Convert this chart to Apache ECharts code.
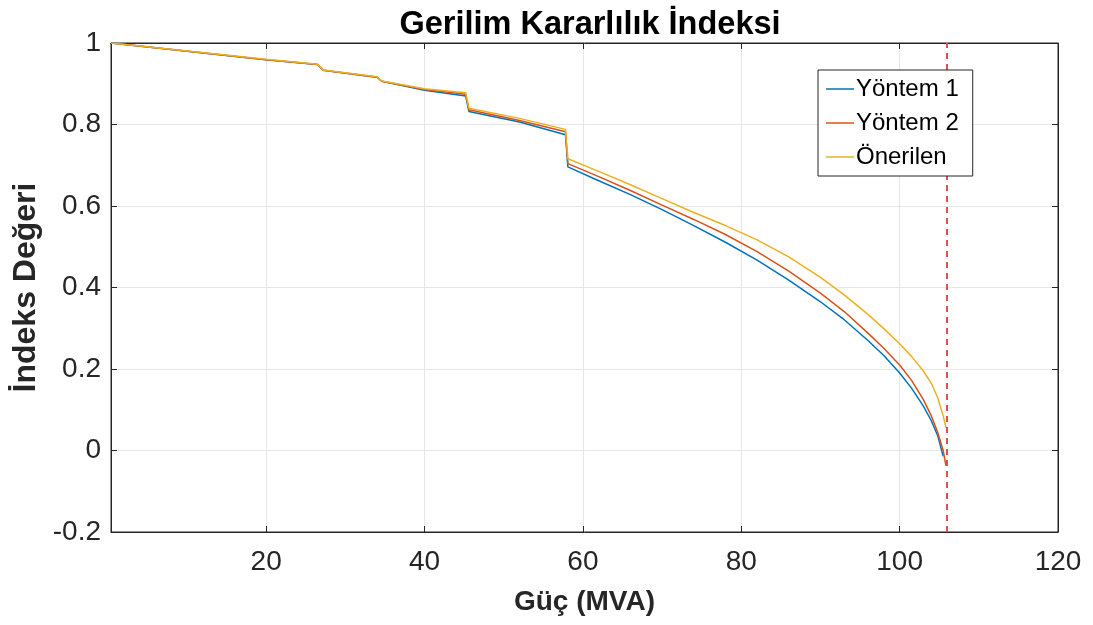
<!DOCTYPE html>
<html>
<head>
<meta charset="utf-8">
<title>Gerilim Kararlılık İndeksi</title>
<script src="https://cdn.jsdelivr.net/npm/echarts@6/dist/echarts.min.js"></script>
<style>
	html, body { margin: 0; padding: 0; background: #fff; }
	#chart { width: 1093px; height: 625px; }
</style>
</head>
<body>
<div id="chart"></div>
<script>
// Güç (MVA) değerleri - basamaklarda aynı bölgede iki nokta var
var gucX = [0.4, 20, 26.5, 27.2, 34.0, 34.6, 40, 45.2, 45.6, 52, 57.8, 58.1,
	62, 66, 70, 74, 78, 82, 86, 90, 93, 96, 98, 100, 101.5, 103, 104, 104.8, 105.5, 105.85];

var yontem1 = [1.0, 0.959, 0.947, 0.933, 0.916, 0.906, 0.884, 0.870, 0.832, 0.806, 0.775, 0.696,
	0.662, 0.628, 0.591, 0.552, 0.511, 0.467, 0.418, 0.365, 0.321, 0.270, 0.233, 0.190, 0.153, 0.109, 0.073, 0.037, -0.014, null];

var yontem2 = [1.0, 0.959, 0.947, 0.933, 0.916, 0.906, 0.886, 0.874, 0.836, 0.810, 0.782, 0.704,
	0.672, 0.638, 0.602, 0.567, 0.530, 0.488, 0.440, 0.386, 0.341, 0.288, 0.251, 0.210, 0.172, 0.125, 0.085, 0.045, 0.0, -0.038];

var onerilen = [1.0, 0.960, 0.948, 0.934, 0.917, 0.907, 0.888, 0.878, 0.840, 0.815, 0.788, 0.716,
	0.685, 0.652, 0.618, 0.584, 0.552, 0.517, 0.475, 0.425, 0.382, 0.334, 0.299, 0.262, 0.231, 0.195, 0.165, 0.130, 0.085, 0.056];

var seriesNames = ['Yöntem 1', 'Yöntem 2', 'Önerilen'];
var seriesColors = ['#0072BD', '#D95319', '#EDB120'];
var xTickValues = [20, 40, 60, 80, 100, 120];
var sinirGuc = 105.9; // kırmızı kesikli çizgi

function pairs(xs, ys) {
	var ret = [];
	for (var i = 0; i < xs.length; i++) {
		if (ys[i] !== null) {
			ret.push([xs[i], ys[i]]);
		}
	}
	return ret;
}

function drawChart() {
	var myChart = echarts.init(document.getElementById('chart'));
	var allY = [yontem1, yontem2, onerilen];
	var font = 'Liberation Sans, Arial';
	var series = [];
	for (var i = 0; i < 3; i++) {
		series.push({
			name: seriesNames[i],
			type: 'line',
			data: pairs(gucX, allY[i]),
			symbol: 'none',
			animation: false,
			lineStyle: { color: seriesColors[i], width: 1.5 },
			itemStyle: { color: seriesColors[i] }
		});
	}
	// sınır çizgisi
	series[2].markLine = {
		silent: true,
		symbol: 'none',
		label: { show: false },
		lineStyle: { color: '#D9534F', width: 2, type: [6, 5] },
		data: [{ xAxis: sinirGuc }]
	};

	var option = {
		backgroundColor: '#fff',
		animation: false,
		title: {
			text: 'Gerilim Kararlılık İndeksi',
			left: 585,
			textAlign: 'center',
			top: 4,
			textStyle: {
				fontFamily: font,
				fontWeight: 'bold',
				fontSize: 32.5,
				color: '#000'
			}
		},
		legend: {
			data: seriesNames,
			zlevel: 1,
			orient: 'vertical',
			left: 818,
			top: 70,
			padding: [7, 14, 7, 8],
			itemGap: 10,
			itemWidth: 28,
			itemHeight: 1.5,
			icon: 'rect',
			borderColor: '#262626',
			borderWidth: 1,
			backgroundColor: '#fff',
			textStyle: {
				fontFamily: font,
				fontSize: 24,
				color: '#000',
				padding: [0, 0, 0, -3]
			}
		},
		grid: {
			left: 111,
			right: 35,
			top: 43,
			bottom: 93,
			show: true,
			borderColor: '#262626',
			borderWidth: 1
		},
		xAxis: [{
			type: 'value',
			min: 0.4,
			max: 120,
			name: 'Güç (MVA)',
			nameLocation: 'middle',
			nameGap: 56,
			nameTextStyle: {
				fontFamily: font,
				fontWeight: 'bold',
				fontSize: 28,
				color: '#262626'
			},
			axisLine: { show: true, onZero: false, lineStyle: { color: '#262626', width: 1 } },
			axisTick: { show: true, inside: true, length: 6, customValues: xTickValues, lineStyle: { color: '#262626' } },
			axisLabel: {
				customValues: xTickValues,
				margin: 16,
				fontFamily: font,
				fontSize: 28,
				color: '#262626'
			},
			splitLine: { show: true, lineStyle: { color: '#e6e6e6', width: 1 } }
		}, {
			type: 'value',
			position: 'top',
			min: 0.4,
			max: 120,
			axisLine: { show: true, onZero: false, lineStyle: { color: '#262626', width: 1 } },
			axisTick: { show: true, inside: true, length: 6, customValues: xTickValues, lineStyle: { color: '#262626' } },
			axisLabel: { show: false },
			splitLine: { show: false }
		}],
		yAxis: [{
			type: 'value',
			min: -0.2,
			max: 1,
			interval: 0.2,
			name: 'İndeks Değeri',
			nameLocation: 'middle',
			nameGap: 66,
			nameRotate: 90,
			nameTextStyle: {
				fontFamily: font,
				fontWeight: 'bold',
				fontSize: 32,
				color: '#262626'
			},
			axisLine: { show: true, onZero: false, lineStyle: { color: '#262626', width: 1 } },
			axisTick: { show: true, inside: true, length: 6, lineStyle: { color: '#262626' } },
			axisLabel: {
				margin: 10,
				fontFamily: font,
				fontSize: 28,
				color: '#262626',
				formatter: function (v) {
					return String(Math.round(v * 10) / 10);
				}
			},
			splitLine: { show: true, lineStyle: { color: '#e6e6e6', width: 1 } }
		}, {
			type: 'value',
			position: 'right',
			min: -0.2,
			max: 1,
			interval: 0.2,
			axisLine: { show: true, onZero: false, lineStyle: { color: '#262626', width: 1 } },
			axisTick: { show: true, inside: true, length: 6, lineStyle: { color: '#262626' } },
			axisLabel: { show: false },
			splitLine: { show: false }
		}],
		series: series
	};
	myChart.setOption(option);
}

drawChart();
</script>
</body>
</html>
